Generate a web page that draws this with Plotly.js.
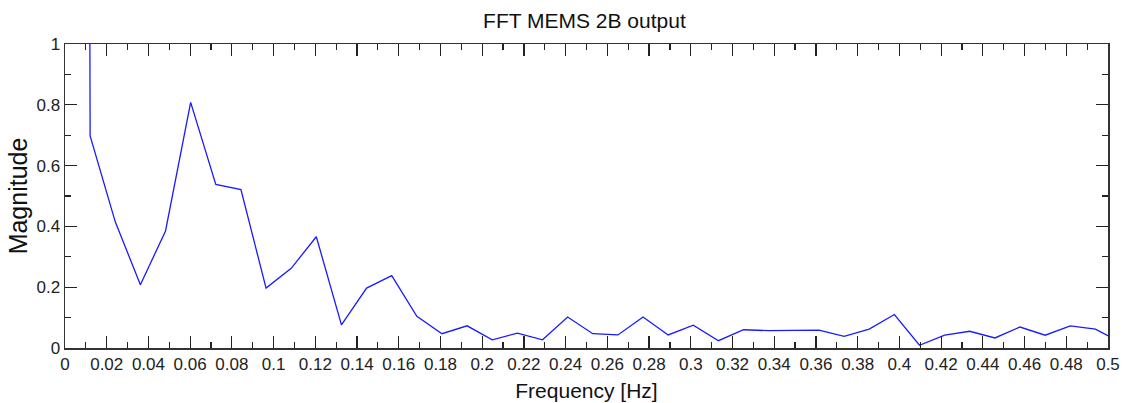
<!DOCTYPE html>
<html>
<head>
<meta charset="utf-8">
<script src="https://cdn.plot.ly/plotly-3.0.1.min.js"></script>
<style>html,body{margin:0;padding:0;background:#fff;}#chart{width:1126px;height:403px;}</style>
</head>
<body>
<div id="chart"></div>
<script>
// Frequency bin spacing (Hz) and bin indices
var binWidth = 1 / 83;
var binIndex = [0,1,2,3,4,5,6,7,8,9,10,11,12,13,14,15,16,17,18,19,20,
                21,22,23,24,25,26,27,28,29,30,31,32,33,34,35,36,37,38,39,40,41,42];
// FFT magnitude (DC bin is far off-scale)
var magnitude = [30,0.698,0.415,0.208,0.385,0.808,0.538,0.521,0.197,0.262,0.366,
                 0.076,0.197,0.238,0.104,0.047,0.073,0.027,0.049,0.027,0.102,
                 0.047,0.043,0.102,0.043,0.075,0.024,0.060,0.057,0.058,0.059,
                 0.038,0.062,0.110,0.009,0.042,0.055,0.033,0.069,0.042,0.073,
                 0.062,0.018];
var frequency = binIndex.map(function(i){ return i * binWidth; });

var fontFam = 'Liberation Sans, Arial, sans-serif';
var tickFam = 'Liberation Sans Narrow, Arial Narrow, Liberation Sans, sans-serif';

var trace = {
  x: frequency,
  y: magnitude,
  type: 'scatter',
  mode: 'lines',
  line: {color: '#1a1aff', width: 1.3},
  hoverinfo: 'skip'
};

var layout = {
  width: 1126, height: 403,
  margin: {l: 65, r: 18, t: 44, b: 55},
  paper_bgcolor: '#fff', plot_bgcolor: '#fff',
  showlegend: false,
  title: {text: 'FFT MEMS 2B output', font: {family: fontFam, size: 21, color: '#111'},
          x: 0.498, xanchor: 'center', xref: 'paper', y: 0.948, yanchor: 'middle', yref: 'container'},
  xaxis: {
    range: [0, 0.5], dtick: 0.02, tick0: 0,
    ticks: 'inside', ticklen: 12, tickwidth: 1.2, tickcolor: '#222',
    minor: {dtick: 0.01, ticks: 'inside', ticklen: 6, tickwidth: 1.2, tickcolor: '#222'},
    showline: true, linecolor: '#333', linewidth: 1.5, mirror: 'allticks',
    showgrid: false, zeroline: false,
    tickfont: {family: tickFam, size: 17, color: '#222'},
    title: {text: 'Frequency [Hz]', font: {family: fontFam, size: 21, color: '#111'}, standoff: 10}
  },
  yaxis: {
    range: [0, 1], dtick: 0.2, tick0: 0,
    ticks: 'inside', ticklen: 12, tickwidth: 1.2, tickcolor: '#222',
    minor: {dtick: 0.1, ticks: 'inside', ticklen: 6, tickwidth: 1.2, tickcolor: '#222'},
    showline: true, linecolor: '#333', linewidth: 1.5, mirror: 'allticks',
    showgrid: false, zeroline: false,
    tickfont: {family: tickFam, size: 17, color: '#222'},
    title: {text: 'Magnitude', font: {family: fontFam, size: 25, color: '#111'}, standoff: 1}
  }
};

Plotly.newPlot('chart', [trace], layout, {displayModeBar: false, staticPlot: true});
</script>
</body>
</html>
